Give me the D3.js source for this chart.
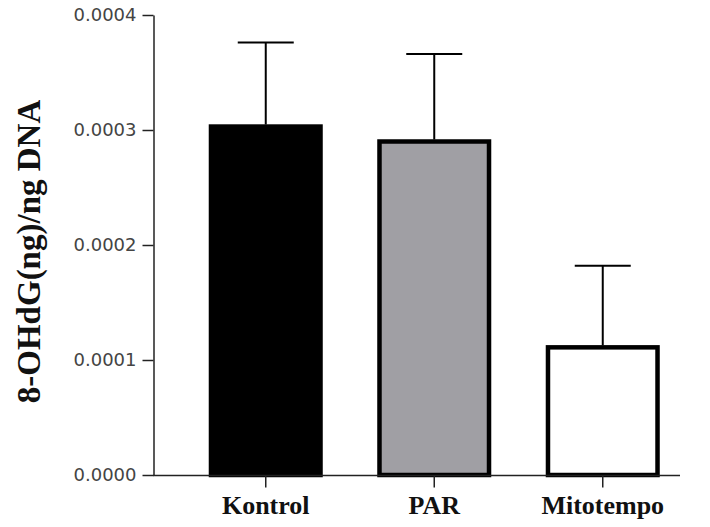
<!DOCTYPE html>
<html>
<head>
<meta charset="utf-8">
<script src="https://cdn.jsdelivr.net/npm/d3@7"></script>
<style>
  body { margin: 0; background: #fff; }
</style>
</head>
<body>
<svg id="chart" width="710" height="527"></svg>
<script>
// data
var groups = ["Kontrol", "PAR", "Mitotempo"];
var means = [0.000303, 0.000290, 0.000111];
var errs = [0.000073, 0.000076, 0.000071];
var fills = ["#000000", "#a09fa4", "#ffffff"];
var yTicks = [0, 0.0001, 0.0002, 0.0003, 0.0004];

var svg = d3.select("svg#chart");

var x = d3.scaleBand()
    .domain(groups)
    .range([181.5, 687])
    .paddingInner(0.35)
    .paddingOuter(0.175);

var y = d3.scaleLinear()
    .domain([0, 0.0004])
    .range([475, 15]);

// bars
svg.selectAll("rect.bar")
    .data(groups)
    .enter().append("rect")
    .attr("class", "bar")
    .attr("x", function(d) { return x(d); })
    .attr("width", x.bandwidth())
    .attr("y", function(d, i) { return y(means[i]); })
    .attr("height", function(d, i) { return y(0) - y(means[i]); })
    .attr("fill", function(d, i) { return fills[i]; })
    .attr("stroke", "#000")
    .attr("stroke-width", 4.5);

// error bars (upper only)
var capW = 56;
var eb = svg.selectAll("g.err")
    .data(groups)
    .enter().append("g")
    .attr("class", "err")
    .attr("stroke", "#000")
    .attr("stroke-width", 2);
eb.append("line")
    .attr("x1", function(d) { return x(d) + x.bandwidth() / 2; })
    .attr("x2", function(d) { return x(d) + x.bandwidth() / 2; })
    .attr("y1", function(d, i) { return y(means[i]) - 2; })
    .attr("y2", function(d, i) { return y(means[i] + errs[i]); });
eb.append("line")
    .attr("x1", function(d) { return x(d) + x.bandwidth() / 2 - capW / 2; })
    .attr("x2", function(d) { return x(d) + x.bandwidth() / 2 + capW / 2; })
    .attr("y1", function(d, i) { return y(means[i] + errs[i]); })
    .attr("y2", function(d, i) { return y(means[i] + errs[i]); });

// y axis
var yAxis = svg.append("g")
    .attr("transform", "translate(153.5,0)")
    .call(d3.axisLeft(y).tickValues(yTicks).tickFormat(d3.format(".4f")).tickSize(11).tickSizeOuter(0));
yAxis.select(".domain").attr("stroke", "#222").attr("stroke-width", 1.5);
yAxis.selectAll(".tick line").attr("stroke", "#222").attr("stroke-width", 1.5);
yAxis.selectAll(".tick text")
    .attr("x", -17)
    .attr("fill", "#444")
    .style("font-family", "DejaVu Sans, sans-serif")
    .style("font-size", "18px");

// x axis
var xAxis = svg.append("g")
    .attr("transform", "translate(0,475.5)")
    .call(d3.axisBottom(x).tickSize(12).tickSizeOuter(0));
xAxis.select(".domain").attr("d", "M153,0H680").attr("stroke", "#222").attr("stroke-width", 1.5);
xAxis.selectAll(".tick line").attr("stroke", "#222").attr("stroke-width", 1.5);
xAxis.selectAll(".tick text")
    .attr("y", 0)
    .attr("dy", null)
    .attr("transform", "translate(0,38.5)")
    .attr("fill", "#111")
    .style("font-family", "Liberation Serif, Times New Roman, serif")
    .style("font-weight", "bold")
    .style("font-size", "26px");

// y label
svg.append("text")
    .attr("transform", "translate(40,251.5) rotate(-90)")
    .attr("text-anchor", "middle")
    .attr("fill", "#111")
    .style("font-family", "Liberation Serif, Times New Roman, serif")
    .style("font-weight", "bold")
    .style("font-size", "33px")
    .text("8-OHdG(ng)/ng DNA");
</script>
</body>
</html>
